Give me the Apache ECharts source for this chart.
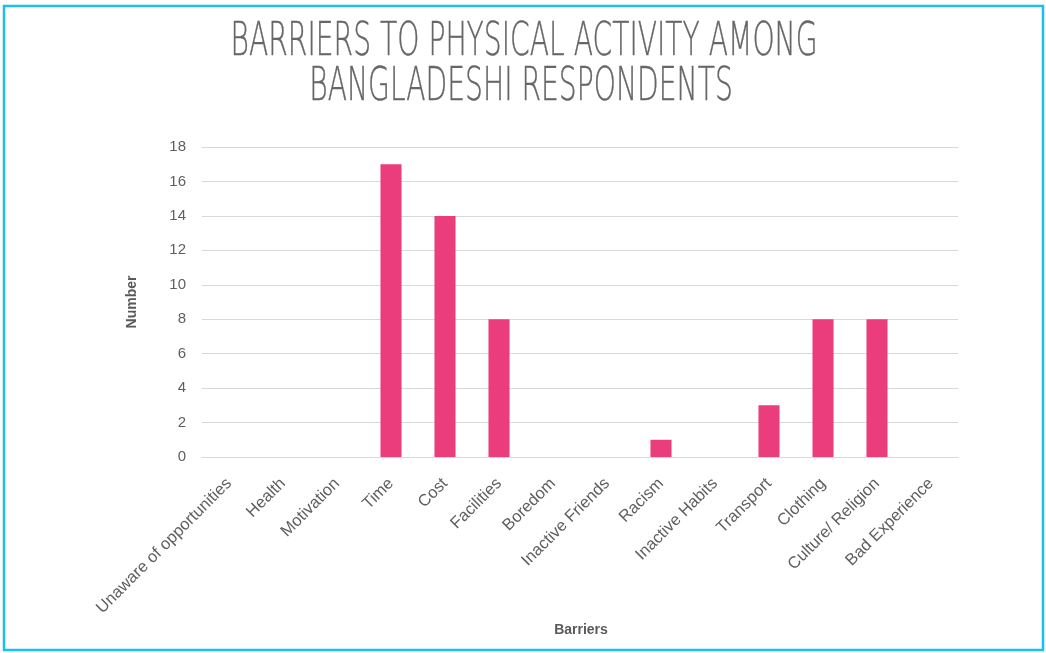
<!DOCTYPE html>
<html>
<head>
<meta charset="utf-8">
<script src="https://cdn.jsdelivr.net/npm/echarts@6/dist/echarts.min.js"></script>
<style>
  html, body { margin: 0; padding: 0; background: #fff; }
  #chart { width: 1046px; height: 653px; }
</style>
</head>
<body>
<div id="chart"></div>
<script>
// Survey counts: reported barriers to physical activity
const barriers = [
  'Unaware of opportunities', 'Health', 'Motivation', 'Time', 'Cost',
  'Facilities', 'Boredom', 'Inactive Friends', 'Racism', 'Inactive Habits',
  'Transport', 'Clothing', 'Culture/ Religion', 'Bad Experience'
];
const counts = [0, 0, 0, 17, 14, 8, 0, 0, 1, 0, 3, 8, 8, 0];
const titleLines = ['BARRIERS TO PHYSICAL ACTIVITY AMONG', 'BANGLADESHI RESPONDENTS'];

const chart = echarts.init(document.getElementById('chart'), null, { renderer: 'canvas' });

const titleFont = '"DejaVu Sans ExtraLight", "DejaVu Sans", sans-serif';
const bodyFont = '"Liberation Sans", Arial, sans-serif';

function titleLine(text, x, y) {
  return {
    type: 'text',
    x: x, y: y,
    scaleX: 0.6,
    silent: true,
    style: {
      text: text,
      font: '200 47px ' + titleFont,
      fill: '#666666',
      stroke: '#666666',
      lineWidth: 0.4,
      textAlign: 'center',
      textVerticalAlign: 'middle'
    }
  };
}

chart.setOption({
  backgroundColor: '#ffffff',
  animation: false,
  graphic: [
    {
      type: 'rect',
      shape: { x: 4, y: 6, width: 1039, height: 644 },
      style: { fill: 'none', stroke: '#1bbfeb', lineWidth: 2.5 },
      silent: true
    },
    titleLine(titleLines[0], 524, 43),
    titleLine(titleLines[1], 521, 88),
    {
      type: 'text',
      x: 581, y: 630,
      silent: true,
      style: {
        text: 'Barriers',
        font: 'bold 14px ' + bodyFont,
        fill: '#595959',
        textAlign: 'center',
        textVerticalAlign: 'middle'
      }
    }
  ],
  grid: { left: 202, right: 88, top: 147, bottom: 196, containLabel: false },
  xAxis: {
    type: 'category',
    data: barriers,
    axisLine: { show: true, lineStyle: { color: '#d9d9d9', width: 1 } },
    axisTick: { show: false },
    axisLabel: {
      rotate: 45,
      interval: 0,
      margin: 24,
      color: '#5f5f5f',
      fontSize: 16.5,
      fontFamily: bodyFont
    }
  },
  yAxis: {
    type: 'value',
    min: 0, max: 18, interval: 2,
    name: 'Number',
    nameLocation: 'middle',
    nameGap: 63,
    nameRotate: 90,
    nameTextStyle: {
      color: '#595959', fontSize: 14, fontWeight: 'bold',
      fontFamily: bodyFont
    },
    axisLine: { show: false },
    axisTick: { show: false },
    splitLine: { lineStyle: { color: '#d9d9d9', width: 1 } },
    axisLabel: {
      margin: 16,
      color: '#5f5f5f',
      fontSize: 15,
      fontFamily: bodyFont
    }
  },
  series: [{
    type: 'bar',
    data: counts,
    barWidth: '39%',
    itemStyle: { color: '#eb3d7b' }
  }]
});
</script>
</body>
</html>
